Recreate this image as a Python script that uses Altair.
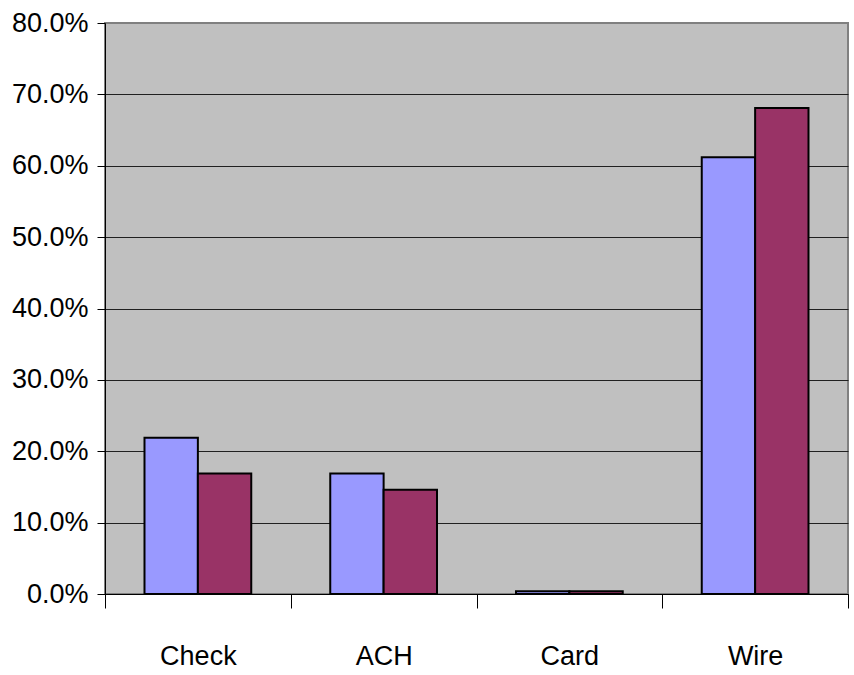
import altair as alt
import pandas as pd

# Share of payment value by method, two series
methods = ["Check", "ACH", "Card", "Wire"]
series_1 = [0.219, 0.169, 0.004, 0.612]
series_2 = [0.169, 0.146, 0.004, 0.681]
series_names = ["Series 1", "Series 2"]
bar_colors = ["#9999FF", "#993366"]

rows = []
for i, m in enumerate(methods):
    rows.append({"method": m, "series": series_names[0], "share": series_1[i]})
    rows.append({"method": m, "series": series_names[1], "share": series_2[i]})
df = pd.DataFrame(rows)

FONT = "Liberation Sans Narrow, Arial Narrow, Liberation Sans, Arial"
FONT_SIZE = 27

bars = alt.Chart(df).mark_bar(stroke="black", strokeWidth=2).encode(
    x=alt.X(
        "method:N",
        sort=methods,
        title=None,
        scale=alt.Scale(paddingInner=0, paddingOuter=0),
        axis=alt.Axis(
            labelAngle=0,
            tickBand="extent",
            tickSize=14,
            tickColor="black",
            domainColor="black",
            labelFont=FONT,
            labelFontSize=FONT_SIZE,
            labelColor="black",
            labelPadding=35,
            grid=False,
        ),
    ),
    xOffset=alt.XOffset(
        "series:N",
        sort=series_names,
        scale=alt.Scale(paddingInner=0, paddingOuter=0.74),
    ),
    y=alt.Y(
        "share:Q",
        title=None,
        scale=alt.Scale(domain=[0, 0.8], nice=False),
        axis=alt.Axis(
            format=".1%",
            values=[0, 0.1, 0.2, 0.3, 0.4, 0.5, 0.6, 0.7, 0.8],
            tickSize=8,
            tickColor="black",
            domainColor="black",
            labelFont=FONT,
            labelFontSize=FONT_SIZE,
            labelColor="black",
            labelPadding=9,
            grid=True,
            gridColor=alt.condition("datum.value >= 0.8", alt.value("#808080"), alt.value("#202020")),
            gridWidth=1,
        ),
    ),
    color=alt.Color(
        "series:N",
        sort=series_names,
        scale=alt.Scale(domain=series_names, range=bar_colors),
        legend=None,
    ),
)

chart = bars.properties(
    width=743,
    height=571,
    autosize=alt.AutoSizeParams(type="none"),
    padding={"left": 105, "top": 23, "right": 6, "bottom": 81},
    background="white",
).configure_view(
    fill="#C0C0C0",
    stroke="#808080",
    strokeWidth=2,
)

chart.save("out.html", embed_options={"renderer": "svg", "actions": False})
